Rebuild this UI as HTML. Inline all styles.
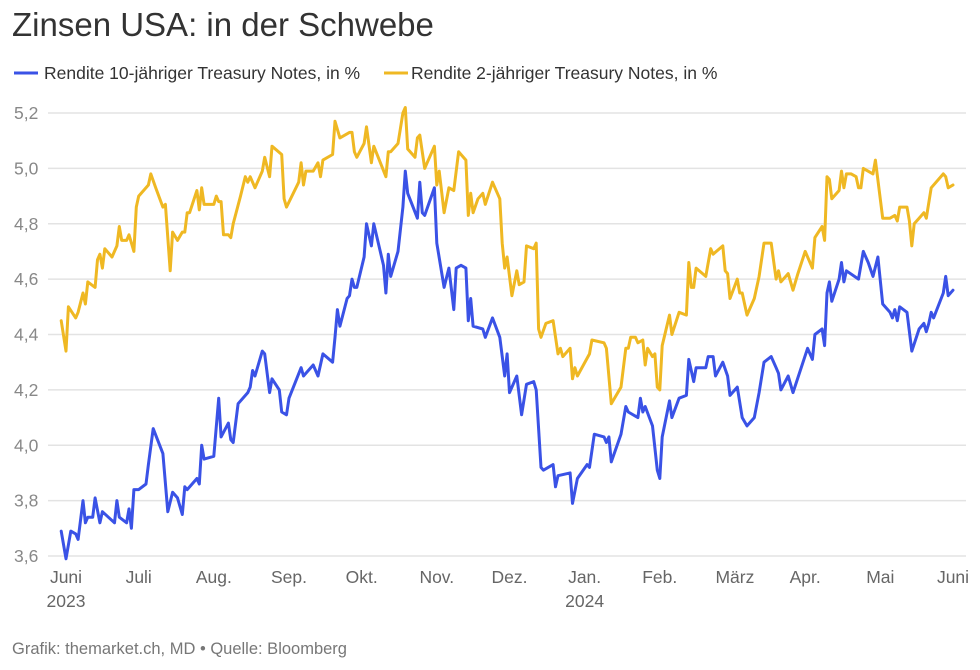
<!DOCTYPE html>
<html><head><meta charset="utf-8">
<style>
body{margin:0;background:#fff;font-family:"Liberation Sans",sans-serif;}
svg text{font-family:"Liberation Sans",sans-serif;}
</style></head>
<body>
<svg id="chart" width="980" height="665" viewBox="0 0 980 665" xmlns="http://www.w3.org/2000/svg">
<text x="12" y="36" font-size="33" fill="#333">Zinsen USA: in der Schwebe</text>
<g>
<g><line x1="14" y1="73" x2="38" y2="73" stroke="#3a52e6" stroke-width="3"/><text x="44" y="79" font-size="17.5" fill="#333">Rendite 10-jähriger Treasury Notes, in %</text></g>
<g><line x1="384" y1="73" x2="408" y2="73" stroke="#efb823" stroke-width="3"/><text x="411" y="79" font-size="17.5" fill="#333">Rendite 2-jähriger Treasury Notes, in %</text></g>
</g>
<g id="grid"></g>
<g id="yaxis"></g>
<g id="xaxis"></g>
<g id="series"></g>
<text x="12" y="654" font-size="16.5" fill="#777">Grafik: themarket.ch, MD • Quelle: Bloomberg</text>
</svg>
<script>
const yTicks=[3.6,3.8,4.0,4.2,4.4,4.6,4.8,5.0,5.2];
const xTickDays=[0,30,61,92,122,153,183,214,245,276,305,336,366];
const xTickLabels=["Juni","Juli","Aug.","Sep.","Okt.","Nov.","Dez.","Jan.","Feb.","März","Apr.","Mai","Juni"];
const xYearLabels={0:"2023",214:"2024"};
const days10=[-2,0,2,4,5,7,8,9,11,12,14,15,20,21,22,25,26,27,28,30,33,34,36,40,42,44,46,48,49,50,54,55,56,57,61,63,64,67,68,69,71,75,76,77,78,81,82,84,85,88,89,91,92,97,98,99,102,104,106,110,111,112,113,116,117,118,119,120,123,124,126,127,131,132,133,134,137,139,140,141,145,146,147,148,152,153,156,158,160,161,163,165,166,167,168,172,173,176,179,181,182,183,186,188,190,193,194,196,197,201,202,203,208,209,211,215,216,218,222,223,224,225,229,231,232,236,237,238,239,242,244,245,246,249,250,253,256,257,259,260,264,265,267,268,271,273,274,277,279,281,284,286,288,291,293,294,295,298,300,306,308,309,312,313,314,315,316,319,320,321,322,327,329,331,333,335,337,340,341,342,343,344,347,349,352,354,355,356,357,358,362,363,364,366];
const vals10=[3.69,3.59,3.69,3.68,3.66,3.80,3.72,3.74,3.74,3.81,3.72,3.76,3.72,3.80,3.74,3.72,3.77,3.70,3.84,3.84,3.86,3.93,4.06,3.97,3.76,3.83,3.81,3.75,3.85,3.84,3.88,3.86,4.00,3.95,3.96,4.17,4.03,4.08,4.02,4.01,4.15,4.19,4.21,4.27,4.25,4.34,4.33,4.19,4.24,4.20,4.12,4.11,4.17,4.28,4.25,4.26,4.29,4.25,4.33,4.30,4.39,4.49,4.43,4.53,4.54,4.60,4.57,4.57,4.68,4.80,4.72,4.80,4.65,4.55,4.69,4.61,4.70,4.86,4.99,4.91,4.82,4.95,4.84,4.83,4.93,4.73,4.57,4.64,4.49,4.64,4.65,4.64,4.45,4.53,4.43,4.42,4.39,4.46,4.39,4.25,4.33,4.19,4.25,4.11,4.22,4.23,4.20,3.92,3.91,3.93,3.85,3.89,3.90,3.79,3.88,3.93,3.92,4.04,4.03,4.01,4.03,3.94,4.04,4.14,4.12,4.10,4.17,4.12,4.14,4.07,3.91,3.88,4.03,4.16,4.10,4.17,4.18,4.31,4.23,4.28,4.28,4.32,4.32,4.25,4.30,4.25,4.18,4.21,4.10,4.07,4.10,4.19,4.30,4.32,4.28,4.26,4.20,4.25,4.19,4.35,4.31,4.40,4.42,4.36,4.55,4.59,4.52,4.60,4.66,4.59,4.63,4.60,4.70,4.66,4.61,4.68,4.51,4.48,4.46,4.49,4.45,4.50,4.48,4.34,4.42,4.44,4.41,4.44,4.48,4.46,4.55,4.61,4.54,4.56];
const days2=[-2,0,1,4,5,7,8,9,12,13,14,15,16,19,21,22,23,25,26,28,29,30,33,34,35,37,40,41,42,43,44,46,48,49,50,51,54,55,56,57,61,62,63,64,65,67,68,69,72,74,75,76,78,81,82,84,85,89,90,91,96,97,98,99,102,104,105,106,110,111,113,117,118,119,120,123,124,126,127,132,133,134,137,139,140,141,144,145,146,148,152,153,154,156,158,160,162,165,166,167,168,170,172,173,176,179,180,181,182,184,186,187,189,190,193,194,195,196,198,201,203,204,205,208,209,210,211,216,217,222,223,225,229,231,232,233,235,236,238,239,240,242,243,244,245,246,249,250,253,256,257,258,259,260,264,266,267,271,272,273,274,277,278,279,281,284,286,288,291,293,294,295,298,300,302,305,308,309,312,313,314,315,316,319,320,321,322,324,326,327,328,329,333,334,337,340,342,343,344,347,348,349,350,352,354,355,357,362,363,364,366];
const vals2=[4.45,4.34,4.50,4.46,4.48,4.55,4.51,4.59,4.57,4.67,4.69,4.64,4.71,4.68,4.72,4.79,4.74,4.74,4.76,4.70,4.86,4.90,4.93,4.94,4.98,4.93,4.86,4.87,4.75,4.63,4.77,4.74,4.77,4.77,4.84,4.84,4.92,4.85,4.93,4.87,4.87,4.90,4.88,4.88,4.76,4.76,4.75,4.80,4.90,4.97,4.95,4.97,4.93,4.99,5.04,4.97,5.08,5.05,4.89,4.86,4.95,5.02,4.94,4.99,4.99,5.02,4.97,5.03,5.05,5.17,5.11,5.13,5.13,5.06,5.04,5.09,5.15,5.02,5.08,4.97,5.06,5.06,5.09,5.20,5.22,5.07,5.04,5.11,5.12,5.00,5.08,4.94,4.99,4.84,4.93,4.92,5.06,5.03,4.83,4.91,4.84,4.89,4.91,4.87,4.95,4.89,4.73,4.64,4.68,4.54,4.63,4.58,4.59,4.72,4.71,4.73,4.42,4.39,4.44,4.45,4.33,4.35,4.32,4.35,4.24,4.28,4.25,4.33,4.38,4.37,4.35,4.15,4.21,4.35,4.35,4.39,4.39,4.37,4.38,4.29,4.35,4.32,4.33,4.21,4.20,4.36,4.47,4.40,4.48,4.47,4.66,4.57,4.57,4.64,4.61,4.71,4.69,4.72,4.63,4.62,4.53,4.60,4.55,4.55,4.47,4.53,4.61,4.73,4.73,4.60,4.63,4.59,4.62,4.56,4.62,4.70,4.64,4.75,4.79,4.74,4.97,4.96,4.89,4.92,4.99,4.93,4.98,4.98,4.97,4.93,4.93,5.00,4.98,5.03,4.82,4.82,4.83,4.81,4.86,4.86,4.81,4.72,4.80,4.82,4.84,4.82,4.93,4.98,4.97,4.93,4.94];

const NS="http://www.w3.org/2000/svg";
const X0=66, PXD=887/366, Y0=556, PXV=443/1.6;
function xScale(d){return X0+d*PXD;}
function yScale(v){return Y0-(v-3.6)*PXV;}
function mk(tag,attrs,parent){const e=document.createElementNS(NS,tag);for(const k in attrs)e.setAttribute(k,attrs[k]);parent.appendChild(e);return e;}
const grid=document.getElementById('grid'),yax=document.getElementById('yaxis'),xax=document.getElementById('xaxis'),ser=document.getElementById('series');
yTicks.forEach(t=>{
  const y=yScale(t);
  const l=mk('line',{x1:48,x2:966,y1:y,y2:y,stroke:'#e3e3e3','stroke-width':1.5},grid);
  
  
  const tx=mk('text',{x:14,y:y+6,'font-size':17.5,fill:'#888'},yax);
  tx.textContent=t.toFixed(1).replace('.',',');
  
  
});
xTickDays.forEach((d,i)=>{
  const x=xScale(d);
  const tx=mk('text',{x:x,y:583,'font-size':17.5,fill:'#666','text-anchor':'middle'},xax);
  tx.textContent=xTickLabels[i];
  
  
  if(xYearLabels[d]){
    const yt=mk('text',{x:x,y:607,'font-size':17.5,fill:'#666','text-anchor':'middle'},xax);
    yt.textContent=xYearLabels[d];
    
    
  }
});
function drawLine(days,vals,color,name){
  const pts=days.map((d,i)=>xScale(d).toFixed(1)+','+yScale(vals[i]).toFixed(1)).join(' ');
  const p=mk('polyline',{points:pts,fill:'none',stroke:color,'stroke-width':3,'stroke-linejoin':'round','stroke-linecap':'round'},ser);
  
  
}
drawLine(days2,vals2,'#efb823','line-2y-yield');
drawLine(days10,vals10,'#3a52e6','line-10y-yield');
</script>
</body></html>
